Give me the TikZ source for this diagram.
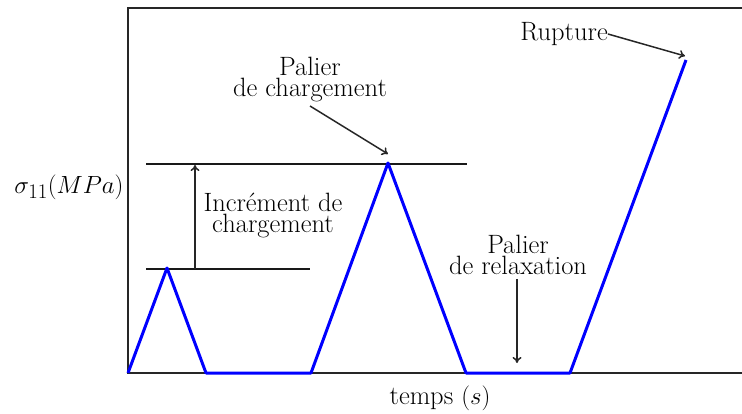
\documentclass[tikz,border=0pt]{standalone}
\usetikzlibrary{arrows.meta}
\begin{document}
\begin{tikzpicture}[x=1pt,y=-1pt,
  frame/.style={line width=2pt,black!85},
  curve/.style={line width=3pt,blue,line join=round},
  guide/.style={line width=1.5pt,black!90},
  pointer/.style={line width=1.5pt,black!85,-{To[length=6pt,width=9pt]}},
  lbl/.style={inner sep=0pt,align=center,font=\fontsize{26.5}{21}\selectfont}]
\useasboundingbox (0,0) rectangle (742,414);
% axes / frame
\coordinate (tl) at (128,8);
\coordinate (bl) at (128,373);
\coordinate (tr) at (742,8);
\coordinate (br) at (742,373);
\draw[frame] (tr) -- (tl) -- (bl) -- (br);
% guide lines
\coordinate (u1) at (146,164);
\coordinate (u2) at (467,164);
\coordinate (l1) at (146,269);
\coordinate (l2) at (310,269);
\draw[guide] (u1) -- (u2);
\draw[guide] (l1) -- (l2);
\coordinate (incA) at (195,269);
\coordinate (incB) at (195,165);
\draw[pointer] (incA) -- (incB);
% loading curve
\coordinate (p0) at (128,373);
\coordinate (p1) at (167,268);
\coordinate (p2) at (206,373);
\coordinate (p3) at (311,373);
\coordinate (p4) at (388,163);
\coordinate (p5) at (466,373);
\coordinate (p6) at (570,373);
\coordinate (p7) at (686,60);
\draw[curve] (p0) -- (p1) -- (p2) -- (p3) -- (p4) -- (p5) -- (p6) -- (p7);
% labels
\node[lbl] (ylab) at (69,187) {\fontsize{28}{21}\selectfont$\sigma_{11}(MPa)$};
\node[lbl] (xlab) at (440,398) {temps $(s)$};
\node[lbl] (inc) at (273,215) {Incrément de\\chargement};
\node[lbl] (pch) at (310,80) {Palier\\de chargement};
\node[lbl] (prl) at (518,255) {Palier\\de relaxation};
\node[lbl] (rup) at (564,34) {Rupture};
% pointers
\coordinate (pchA) at (310,106);
\coordinate (pchB) at (388,154);
\draw[pointer] (pchA) -- (pchB);
\coordinate (prlA) at (517,279);
\coordinate (prlB) at (517,363);
\draw[pointer] (prlA) -- (prlB);
\coordinate (rupB) at (685,56);
\draw[pointer] (rup.east) -- (rupB);
\end{tikzpicture}
\end{document}
